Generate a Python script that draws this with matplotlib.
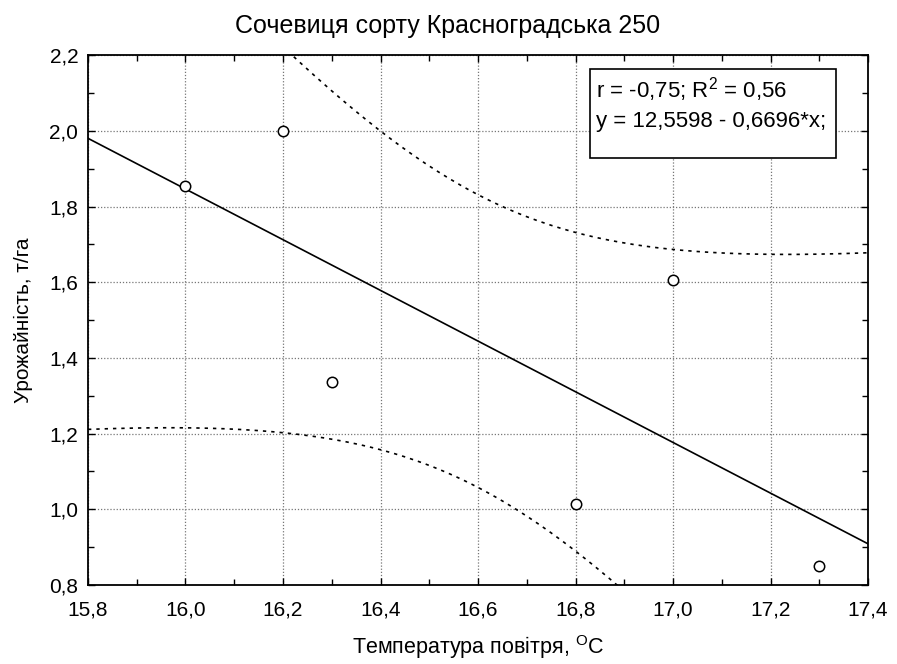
import numpy as np
import matplotlib
matplotlib.use("Agg")
import matplotlib.pyplot as plt
from matplotlib.patches import Rectangle
from matplotlib.ticker import MultipleLocator, FuncFormatter

plt.rcParams['font.family'] = ['Liberation Sans', 'DejaVu Sans']
plt.rcParams['mathtext.fontset'] = 'custom'
plt.rcParams['mathtext.rm'] = 'Liberation Sans'

# ── Дані ───────────────────────────────────────────────────────────────────
temp = [16.0, 16.2, 16.3, 16.8, 17.0, 17.3]
yield_t = [1.855, 2.0, 1.335, 1.015, 1.605, 0.85]
b0, b1 = 12.5598, -0.6696
t_crit = 2.776   # t(0.975, df=4)

x = np.array(temp)
y = np.array(yield_t)
n = len(x)

# лінія регресії та 95% довірчі межі
xs = np.linspace(15.8, 17.4, 200)
pred = b0 + b1 * xs
resid = y - (b0 + b1 * x)
s = np.sqrt((resid ** 2).sum() / (n - 2))
sxx = ((x - x.mean()) ** 2).sum()
half = t_crit * s * np.sqrt(1 / n + (xs - x.mean()) ** 2 / sxx)

fig = plt.figure(figsize=(8.97, 6.64), dpi=100)
ax = fig.add_axes([0.0981, 0.119, 0.8696, 0.798])

ax.plot(xs, pred, color="black", lw=1.2)
ax.plot(xs, pred + half, color="black", lw=1.2, ls=(0, (2, 3)))
ax.plot(xs, pred - half, color="black", lw=1.2, ls=(0, (2, 3)))
ax.plot(x, y, "o", mfc="white", mec="black", ms=7.5, mew=1.1, zorder=5)

ax.set_xlim(15.8, 17.4)
ax.set_ylim(0.8, 2.2)
ax.xaxis.set_major_locator(MultipleLocator(0.2))
ax.xaxis.set_minor_locator(MultipleLocator(0.1))
ax.yaxis.set_major_locator(MultipleLocator(0.2))
ax.yaxis.set_minor_locator(MultipleLocator(0.1))
fmt = FuncFormatter(lambda v, p: f"{v:.1f}".replace(".", ","))
ax.xaxis.set_major_formatter(fmt)
ax.yaxis.set_major_formatter(fmt)
ax.tick_params(which="both", direction="in", top=True, right=True,
               labelsize=15, width=1)
ax.tick_params(which="major", length=5)
ax.tick_params(which="minor", length=4)
ax.tick_params(axis="x", pad=11)
ax.tick_params(axis="y", pad=7)
ax.grid(True, which="major", color="#777777", ls=(0, (1, 1.5)), lw=0.9)
for sp in ax.spines.values():
    sp.set_linewidth(1.3)

# заголовок по центру рисунка, а не осей
ax.set_title("Сочевиця сорту Красноградська 250", fontsize=18, pad=16, x=0.4615)
ax.set_xlabel("Температура повітря, $^{\\mathrm{O}}$C", fontsize=15.5, labelpad=10)
ax.set_ylabel("Урожайність, т/га", fontsize=15, labelpad=12)

# рамка з рівнянням
ax.add_patch(Rectangle((0.6436, 0.8057), 0.3154, 0.1679, transform=ax.transAxes,
                       fc="white", ec="black", lw=1.2, zorder=6))
ax.text(0.651, 0.9208, "r = -0,75; R$^{2}$ = 0,56", transform=ax.transAxes,
        fontsize=16, va="baseline", ha="left", zorder=7)
ax.text(0.651, 0.864, "y = 12,5598 - 0,6696*x;", transform=ax.transAxes,
        fontsize=16, va="baseline", ha="left", zorder=7)

fig.savefig("out.png", dpi=100)
